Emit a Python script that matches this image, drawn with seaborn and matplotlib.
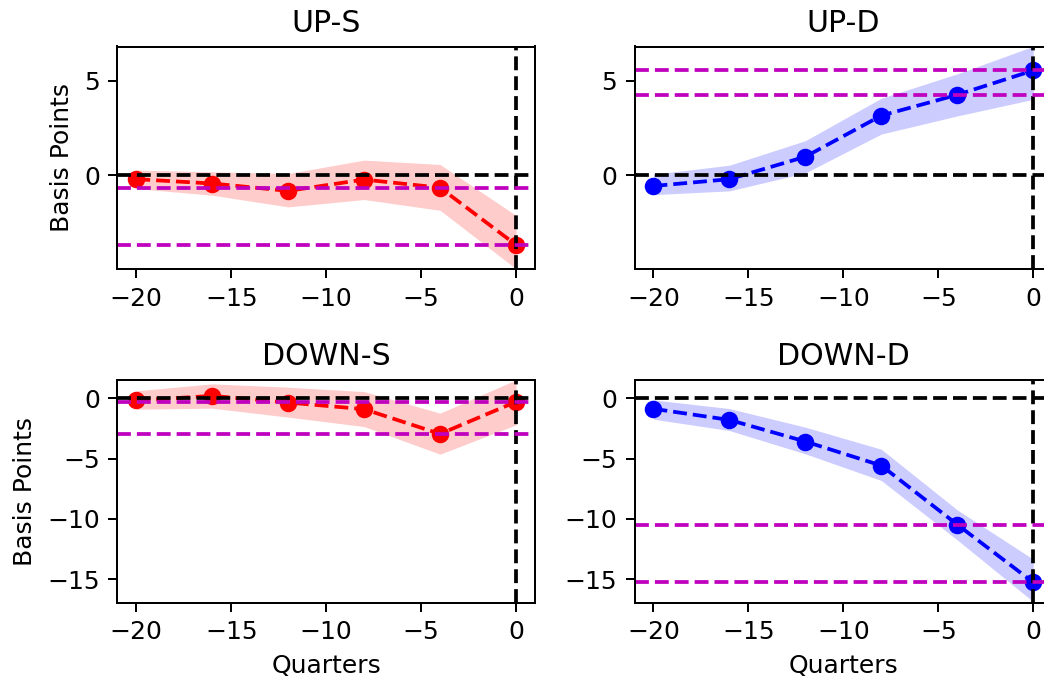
import matplotlib
matplotlib.use("Agg")
import matplotlib.pyplot as plt
import seaborn as sns

# Event-time grid (quarters before the event)
quarters = [-20, -16, -12, -8, -4, 0]

# Point estimates and confidence bands, in basis points
up_s = [-0.21, -0.44, -0.83, -0.23, -0.66, -3.69]
up_s_lo = [-0.71, -1.06, -1.68, -1.29, -1.86, -4.96]
up_s_hi = [0.27, 0.18, 0.09, 0.80, 0.57, -2.13]

up_d = [-0.57, -0.21, 0.98, 3.16, 4.26, 5.55]
up_d_lo = [-1.03, -0.83, 0.12, 2.18, 3.14, 4.02]
up_d_hi = [0.05, 0.53, 1.83, 4.08, 5.37, 6.83]

down_s = [-0.19, 0.19, -0.36, -0.91, -2.96, -0.30]
down_s_lo = [-0.91, -0.83, -1.57, -2.35, -4.64, -2.21]
down_s_hi = [0.61, 1.19, 0.91, 0.55, -1.24, 1.52]

down_d = [-0.88, -1.80, -3.59, -5.58, -10.47, -15.25]
down_d_lo = [-1.74, -2.68, -4.61, -6.82, -11.74, -16.85]
down_d_hi = [-0.14, -0.86, -2.40, -4.23, -9.25, -13.34]

titles = ["UP-S", "UP-D", "DOWN-S", "DOWN-D"]
x_ticks = [-20, -15, -10, -5, 0]
top_y_ticks = [0, 5]
bottom_y_ticks = [0, -5, -10, -15]

s = 1.8
plt.rcParams.update({
    "font.family": "DejaVu Sans",
    "font.size": 10 * s,
    "axes.titlesize": 12 * s,
    "axes.labelsize": 10 * s,
    "xtick.labelsize": 10 * s,
    "ytick.labelsize": 10 * s,
    "axes.linewidth": 0.8 * s,
    "xtick.major.size": 3.5 * s,
    "ytick.major.size": 3.5 * s,
    "xtick.major.width": 0.8 * s,
    "ytick.major.width": 0.8 * s,
    "xtick.major.pad": 3.5 * s,
    "ytick.major.pad": 3.5 * s,
    "axes.labelpad": 4.0 * s,
    "axes.titlepad": 6.0 * s,
})

fig = plt.figure(figsize=(10.44, 6.82), dpi=100)
W, H = 1044, 682
ax_w = 417.7 / W
ax_h = 222.5 / H
positions = [
    (117.3 / W, 1 - 269.0 / H),
    (634.5 / W, 1 - 269.0 / H),
    (117.3 / W, 1 - 602.7 / H),
    (634.5 / W, 1 - 602.7 / H),
]
axes = [fig.add_axes([l, b, ax_w, ax_h]) for l, b in positions]

panels = [
    (up_s, up_s_lo, up_s_hi, "r"),
    (up_d, up_d_lo, up_d_hi, "b"),
    (down_s, down_s_lo, down_s_hi, "r"),
    (down_d, down_d_lo, down_d_hi, "b"),
]

for i, (ax, (est, lo, hi, col)) in enumerate(zip(axes, panels)):
    ax.fill_between(quarters, lo, hi, color=col, alpha=0.2, linewidth=0)
    sns.lineplot(x=quarters, y=est, ax=ax, color=col, linestyle="--",
                 linewidth=1.5 * s, marker="o", markersize=6 * s,
                 markeredgecolor=col, markeredgewidth=1.0 * s)
    ax.axhline(0, color="k", linestyle="--", linewidth=1.5 * s)
    ax.axvline(0, color="k", linestyle="--", linewidth=1.5 * s)
    # reference levels at the last two estimates
    ax.axhline(est[-2], color="m", linestyle="--", linewidth=1.5 * s)
    ax.axhline(est[-1], color="m", linestyle="--", linewidth=1.5 * s)
    ax.set_title(titles[i])
    ax.set_xlim(-21, 1)
    ax.set_xticks(x_ticks)
    if i < 2:
        ax.set_ylim(-4.97, 6.82)
        ax.set_yticks(top_y_ticks)
    else:
        ax.set_ylim(-16.94, 1.49)
        ax.set_yticks(bottom_y_ticks)
        ax.set_xlabel("Quarters")
    if i % 2 == 0:
        ax.set_ylabel("Basis Points")

fig.savefig("out.png", dpi=100)
